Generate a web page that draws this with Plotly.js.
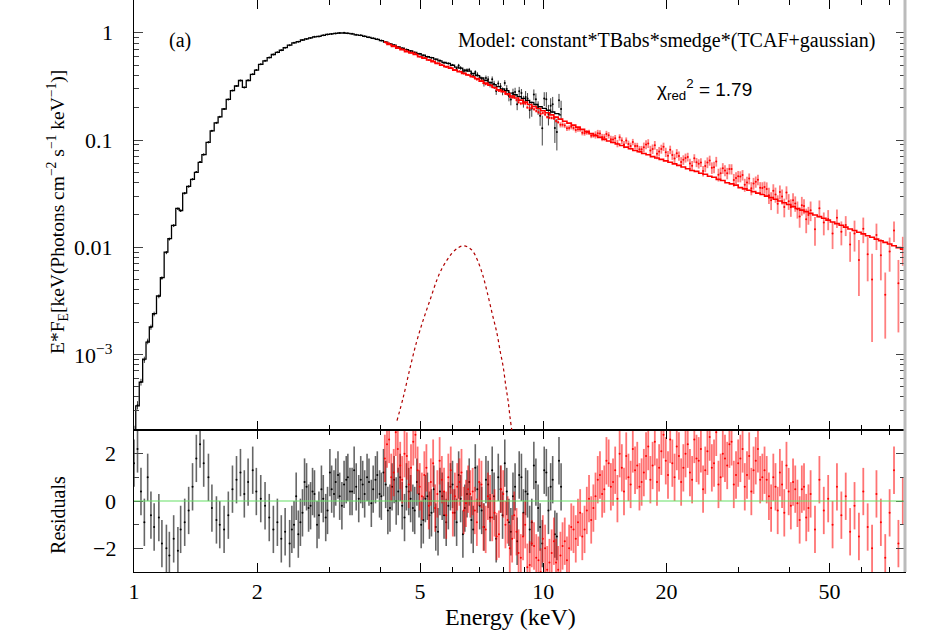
<!DOCTYPE html>
<html>
<head>
<meta charset="utf-8">
<script src="https://cdn.plot.ly/plotly-3.0.1.min.js"></script>
<style>html,body{margin:0;padding:0;background:#fff;}#chart{width:934px;height:632px;}</style>
</head>
<body>
<div id="chart"></div>
<script>
// ---------- Black instrument (1-11 keV) ----------
const blackE = [1.00,1.02,1.04,1.06,1.08,1.10,1.12,1.15,1.17,1.20,
1.22,1.25,1.28,1.30,1.33,1.36,1.39,1.42,1.45,1.48,
1.52,1.55,1.59,1.62,1.66,1.70,1.74,1.78,1.82,1.86,
1.90,1.95,1.99,2.04,2.09,2.14,2.19,2.24,2.29,2.34,
2.40,2.46,2.52,2.58,2.64,2.70,2.76,2.83,2.90,2.97,
3.04,3.11,3.18,3.26,3.33,3.41,3.49,3.58,3.66,3.75,
3.84,3.93,4.02,4.12,4.22,4.32,4.42,4.52,4.63,4.74,
4.85,4.97,5.09,5.21,5.33,5.46,5.59,5.72,5.86,6.00,
6.14,6.28,6.43,6.59,6.74,6.90,7.07,7.24,7.41,7.58,
7.76,7.95,8.14,8.33,8.53,8.73,8.94,9.15,9.37,9.59,
9.82,10.05,10.29,10.54,10.79,11.05];
const blackModel = [1.9e-4,3.3e-4,5.5e-4,9.0e-4,1.3e-3,1.8e-3,2.4e-3,3.5e-3,5.2e-3,9.0e-3,
0.012,0.016,0.023,0.022,0.032,0.037,0.043,0.050,0.062,0.073,
0.095,0.122,0.145,0.165,0.195,0.24,0.29,0.32,0.36,0.31,
0.36,0.41,0.45,0.51,0.55,0.59,0.63,0.66,0.69,0.73,
0.77,0.81,0.83,0.86,0.88,0.90,0.92,0.93,0.95,0.97,
0.98,0.99,1.00,1.00,0.99,0.98,0.96,0.95,0.93,0.91,
0.89,0.87,0.85,0.82,0.79,0.77,0.74,0.72,0.70,0.68,
0.66,0.64,0.62,0.60,0.59,0.57,0.55,0.53,0.52,0.50,
0.48,0.47,0.45,0.44,0.42,0.40,0.38,0.36,0.345,0.33,
0.315,0.30,0.29,0.275,0.265,0.255,0.245,0.235,0.225,0.215,
0.205,0.198,0.19,0.183,0.177,0.172];
const blackFlux = [1.95e-4,3.35e-4,5.5e-4,8.9e-4,1.32e-3,1.79e-3,2.38e-3,3.48e-3,5.15e-3,8.9e-3,
0.0119,0.0159,0.0229,0.0219,0.0319,0.0369,0.0431,0.0503,0.0624,0.0733,
0.0953,0.1219,0.1448,0.1648,0.1947,0.2398,0.2906,0.3205,0.3610,0.3103,
0.3612,0.4115,0.4508,0.5101,0.5498,0.5894,0.6288,0.6594,0.6888,0.7289,
0.7686,0.8093,0.8288,0.8596,0.8806,0.8998,0.9203,0.9294,0.9502,0.9696,
0.9806,0.9916,1.0007,1.0030,0.9940,0.9839,0.9629,0.9539,0.9328,0.9137,
0.8922,0.8748,0.8504,0.8223,0.7886,0.7732,0.7413,0.7186,0.7021,0.6803,
0.6587,0.6406,0.6170,0.6012,0.5883,0.5663,0.5522,0.5283,0.5189,0.5035,
0.463,0.472,0.445,0.454,0.400,0.410,0.372,0.379,0.331,0.335,
0.337,0.286,0.300,0.239,0.281,0.286,0.230,0.244,0.197,0.241,
0.169,0.244,0.175,0.216,0.119,0.195];
const blackFluxErr = [2e-5,3e-5,4e-5,6e-5,8e-5,1e-4,1.2e-4,1.5e-4,2e-4,3e-4,
4e-4,5e-4,6e-4,6e-4,8e-4,9e-4,1e-3,1.1e-3,1.3e-3,1.5e-3,
1.8e-3,2e-3,2.2e-3,2.4e-3,2.6e-3,2.9e-3,3.2e-3,3.4e-3,3.6e-3,3.3e-3,
3.5e-3,3.7e-3,3.9e-3,4e-3,4.1e-3,4.2e-3,4.3e-3,4.4e-3,4.5e-3,4.6e-3,
4.7e-3,4.8e-3,4.9e-3,5e-3,5e-3,5.1e-3,5.1e-3,5.2e-3,5.2e-3,5.3e-3,
5.3e-3,5.4e-3,5.4e-3,5.5e-3,5.5e-3,5.6e-3,5.6e-3,5.7e-3,5.8e-3,5.9e-3,
6e-3,6.1e-3,6.2e-3,6.3e-3,6.4e-3,6.5e-3,6.7e-3,6.9e-3,7.1e-3,7.3e-3,
7.5e-3,7.8e-3,8.1e-3,8.4e-3,8.8e-3,9.2e-3,9.6e-3,0.010,0.0105,0.011,
0.019,0.019,0.018,0.018,0.017,0.020,0.019,0.022,0.021,0.023,
0.022,0.024,0.026,0.028,0.027,0.028,0.029,0.031,0.032,0.032,
0.033,0.036,0.038,0.037,0.039,0.038];
// extra black spectral bins in the noisy 6-11 keV end
const blackE3 = [6.21,6.36,6.51,6.67,6.82,6.99,7.16,7.33,7.50,7.67,7.86,8.05,8.24,8.43,8.63,8.84,9.05,9.26,9.48,9.71,9.94,10.17,10.42,10.67,10.92];
const blackFlux3 = [0.496,0.434,0.450,0.416,0.433,0.387,0.342,0.370,0.369,0.287,0.319,0.342,0.258,0.275,0.216,0.275,0.253,0.191,0.266,0.201,0.129,0.241,0.209,0.130,0.235];
const blackFluxErr3 = [0.019,0.018,0.018,0.017,0.016,0.016,0.026,0.025,0.024,0.023,0.022,0.021,0.028,0.027,0.026,0.025,0.034,0.032,0.031,0.029,0.040,0.039,0.037,0.036,0.035];
const blackResid = [1.6,2.2,0.4,-0.9,1.0,-0.6,-1.1,-0.7,-1.8,-2.0,
-2.3,-1.6,-2.1,-1.2,-0.9,-0.4,0.6,1.8,2.4,1.6,
1.0,-0.3,-0.8,-1.0,-1.2,-0.6,0.5,0.9,1.2,0.3,
0.8,1.3,0.4,0.1,-0.2,-0.7,-1.2,-0.9,-1.6,-1.3,
-1.8,-1.0,-1.4,-0.5,0.6,-0.2,0.3,-0.6,0.1,-0.4,
0.5,0.8,0.2,0.7,1.0,0.4,0.6,0.9,0.3,0.8,
0.5,1.1,0.2,0.7,-0.3,0.9,0.4,-0.2,0.6,0.1,
-0.4,0.3,-0.8,0.2,-0.5,-1.1,0.4,-0.6,-0.2,0.7,
-0.9,0.1,-0.3,0.8,-1.2,0.5,-0.4,0.9,-0.7,0.2,
1.0,-0.6,0.4,-1.3,0.6,1.1,-0.5,0.3,-0.9,0.8,
-1.1,1.3,-0.4,0.9,-1.5,0.6];
// additional black residual bins (2.4-11 keV)
const blackE2 = [2.43,2.49,2.55,2.61,2.67,2.73,2.80,2.87,2.94,3.01,
3.08,3.15,3.22,3.30,3.37,3.45,3.54,3.62,3.71,3.80,
3.89,3.98,4.07,4.17,4.27,4.37,4.47,4.58,4.69,4.80,
4.91,5.03,5.15,5.27,5.40,5.53,5.66,5.79,5.93,6.07,
6.21,6.36,6.51,6.67,6.82,6.99,7.16,7.33,7.50,7.67,
7.86,8.05,8.24,8.43,8.63,8.84,9.05,9.26,9.48,9.71,
9.94,10.17,10.42,10.67,10.92];
const blackResid2 = [-1.2,0.2,-0.9,0.8,-0.3,0.4,-1.0,0.5,-0.7,1.2,
0.3,1.1,-0.2,0.9,0.4,1.3,0.1,0.7,1.0,-0.1,
0.9,0.3,1.2,-0.4,0.6,0.0,1.0,-0.7,0.4,-0.3,
0.8,-1.0,0.1,-0.6,0.5,-1.3,0.2,-0.9,0.6,-0.5,
1.1,-1.4,0.3,-0.8,1.4,-0.2,-1.1,0.7,1.3,-1.6,
0.5,1.6,-0.9,0.2,-1.7,1.0,0.4,-1.2,1.5,-0.3,
-1.8,1.2,0.6,-1.4,1.7];

// ---------- Red instrument (4-76 keV) ----------
const redE = [4.10,4.20,4.31,4.41,4.52,4.64,4.75,4.87,4.99,5.12,
5.25,5.38,5.51,5.65,5.79,5.94,6.08,6.24,6.39,6.55,
6.72,6.88,7.06,7.23,7.41,7.60,7.79,7.98,8.18,8.39,
8.60,8.81,9.03,9.26,9.49,9.73,9.97,10.22,10.48,10.74,
11.01,11.28,11.56,11.85,12.15,12.45,12.77,13.09,13.41,13.75,
14.09,14.44,14.80,15.17,15.55,15.94,16.34,16.75,17.17,17.60,
18.04,18.49,18.95,19.42,19.91,20.41,20.92,21.44,21.98,22.53,
23.09,23.67,24.26,24.86,25.49,26.12,26.78,27.44,28.13,28.83,
29.56,30.29,31.05,31.83,32.62,33.44,34.28,35.13,36.01,36.91,
37.83,38.78,39.75,40.74,41.76,42.80,43.87,44.97,46.09,47.25,
48.43,49.64,50.88,52.15,53.46,54.79,56.16,57.57,59.01,60.48,
61.99,63.54,65.13,66.76,68.43,70.14,71.89,73.69,75.53];
const redModel = [0.81,0.78,0.75,0.72,0.70,0.67,0.65,0.63,0.60,0.58,
0.56,0.54,0.52,0.50,0.485,0.47,0.45,0.435,0.42,0.405,
0.39,0.375,0.355,0.34,0.325,0.31,0.295,0.283,0.27,0.258,
0.247,0.236,0.226,0.215,0.206,0.197,0.188,0.180,0.172,0.164,
0.157,0.150,0.144,0.138,0.132,0.126,0.120,0.115,0.110,0.106,
0.102,0.098,0.095,0.092,0.089,0.086,0.083,0.080,0.078,0.075,
0.073,0.070,0.068,0.066,0.064,0.062,0.060,0.058,0.056,0.054,
0.052,0.051,0.049,0.048,0.046,0.045,0.043,0.042,0.040,0.039,
0.038,0.036,0.035,0.034,0.033,0.032,0.031,0.030,0.029,0.028,
0.027,0.026,0.025,0.024,0.023,0.0222,0.0215,0.0207,0.0200,0.0193,
0.0186,0.0179,0.0172,0.0166,0.0160,0.0154,0.0148,0.0143,0.0138,0.0133,
0.0128,0.0124,0.0119,0.0115,0.0111,0.0107,0.0103,0.0099,0.0096];
const redFlux = [0.825,0.80,0.759,0.736,0.706,0.683,0.659,0.648,0.604,0.588,
0.559,0.550,0.522,0.505,0.481,0.477,0.451,0.439,0.418,0.407,
0.393,0.368,0.360,0.332,0.326,0.307,0.287,0.285,0.266,0.250,
0.237,0.219,0.219,0.198,0.194,0.182,0.179,0.164,0.161,0.151,
0.139,0.137,0.130,0.130,0.126,0.117,0.118,0.110,0.112,0.115,
0.106,0.111,0.101,0.093,0.099,0.099,0.088,0.088,0.082,0.0858,
0.0931,0.0826,0.0745,0.0826,0.0771,0.0813,0.0672,0.0712,0.0654,0.0696,
0.0576,0.0620,0.0619,0.0574,0.0646,0.0558,0.0475,0.0546,0.0490,0.0536,
0.0443,0.0457,0.0382,0.0437,0.0394,0.0426,0.0357,0.0349,0.0274,0.0310,
0.0328,0.0237,0.0268,0.0275,0.0226,0.0246,0.0182,0.0221,0.0147,0.0231,
0.0170,0.0183,0.0134,0.0188,0.0139,0.0161,0.0106,0.0134,0.0076,0.0149,
0.0086,0.0050,0.0130,0.0084,0.0036,0.0091,0.0143,0.0046,0.0096];
const redFluxErr = [0.0081,0.0078,0.0075,0.0072,0.007,0.0067,0.0065,0.0063,0.006,0.007,
0.0067,0.0065,0.0062,0.006,0.0058,0.0056,0.0054,0.0052,0.005,0.0049,
0.0078,0.0075,0.0071,0.0068,0.0065,0.0062,0.0059,0.0057,0.0054,0.0052,
0.0074,0.0071,0.0068,0.0065,0.0062,0.0059,0.0056,0.0054,0.0052,0.0049,
0.0079,0.0075,0.0072,0.0069,0.0066,0.0063,0.006,0.0058,0.0088,0.0085,
0.0082,0.0078,0.0076,0.0074,0.0071,0.0069,0.0066,0.0064,0.0062,0.009,
0.0088,0.0084,0.0082,0.0079,0.0077,0.0074,0.0072,0.007,0.0067,0.0065,
0.0062,0.0061,0.0059,0.0072,0.0069,0.0068,0.0065,0.0063,0.006,0.0059,
0.0057,0.0054,0.0053,0.0051,0.005,0.0048,0.0047,0.0054,0.0052,0.005,
0.0049,0.0047,0.0045,0.0043,0.0041,0.0049,0.0047,0.0046,0.0044,0.0042,
0.0041,0.0039,0.0038,0.0037,0.0035,0.0034,0.0033,0.0043,0.0041,0.004,
0.0038,0.0037,0.0036,0.0035,0.0022,0.0032,0.0031,0.003,0.0029];
const redResid = [1.8,2.6,1.2,2.2,0.9,1.9,1.4,2.8,0.6,1.1,
-0.2,1.6,0.3,0.9,-0.6,1.3,0.2,0.8,-0.4,0.5,
0.4,-0.9,0.7,-1.2,0.1,-0.5,-1.4,0.3,-0.8,-1.6,
-1.3,-2.4,-1.0,-2.7,-1.9,-2.5,-1.6,-2.9,-2.2,-2.6,
-2.3,-1.7,-2.0,-1.2,-0.9,-1.5,-0.4,-0.8,0.2,1.1,
0.5,1.6,0.8,0.1,1.4,1.9,0.7,1.3,0.6,1.2,
2.3,1.5,0.8,2.1,1.7,2.6,1.0,1.9,1.4,2.4,
0.9,1.8,2.2,1.3,2.7,1.6,0.7,2.0,1.5,2.5,
1.1,1.8,0.6,1.9,1.3,2.2,1.0,0.9,-0.3,0.6,
1.2,-0.5,0.4,0.8,-0.1,0.5,-0.7,0.3,-1.2,0.9,
-0.4,0.1,-1.0,0.6,-0.6,0.2,-1.3,-0.2,-1.5,0.4,
-1.1,-2.0,0.3,-0.9,-2.4,-0.5,1.3,-1.8,0.0];
// additional red bins (4-45 keV)
const redE2 = [4.15,4.25,4.36,4.47,4.58,4.69,4.81,4.93,
5.05,5.18,5.31,5.44,5.58,5.72,5.86,6.01,6.16,6.31,6.47,6.63,
6.80,6.97,7.14,7.32,7.50,7.69,7.88,8.08,8.28,8.49,
8.70,8.92,9.14,9.37,9.61,9.85,10.10,10.35,10.61,10.87,
11.14,11.42,11.70,12.00,12.30,12.61,12.93,13.25,
13.58,13.92,14.26,14.62,14.98,15.36,15.74,16.14,16.54,16.96,17.38,
17.82,18.26,18.72,19.18,19.66,20.16,20.66,21.18,21.71,22.25,22.81,23.38,23.96,24.56,
25.17,25.80,26.45,27.11,27.78,28.48,29.19,29.92,30.67,31.44,32.22,33.03,33.86,34.70,
35.57,36.46,37.37,38.30,39.26,40.24,41.25,42.28,43.33,44.42];
const redFlux2 = [0.814,0.773,0.756,0.721,0.699,0.665,0.656,0.623,
0.591,0.580,0.555,0.528,0.520,0.492,0.484,0.457,0.446,0.434,0.412,0.399,
0.380,0.371,0.340,0.334,0.314,0.294,0.292,0.271,0.253,0.250,
0.226,0.221,0.202,0.200,0.187,0.176,0.173,0.162,0.159,0.147,
0.139,0.129,0.133,0.124,0.126,0.116,0.119,0.111,
0.116,0.106,0.114,0.102,0.104,0.106,0.091,0.092,0.096,0.088,0.082,
0.0909,0.0798,0.0897,0.0783,0.0868,0.0713,0.0727,0.0753,0.0625,0.0682,0.0606,0.0676,0.0602,0.0514,
0.0618,0.0551,0.0631,0.0489,0.0521,0.0537,0.0425,0.0459,0.0472,0.0402,0.0355,0.0408,0.0358,0.0364,
0.0306,0.0336,0.0255,0.0298,0.0324,0.0236,0.0256,0.0193,0.0242,0.0200];
const redFluxErr2 = [0.008,0.0077,0.0074,0.0071,0.0069,0.0066,0.0064,0.0062,
0.0071,0.0068,0.0066,0.0064,0.0061,0.0059,0.0057,0.0055,0.0053,0.0051,0.005,0.0048,
0.0077,0.0073,0.007,0.0067,0.0064,0.0061,0.0058,0.0055,0.0053,0.0051,
0.0073,0.0069,0.0066,0.0063,0.0061,0.0058,0.0055,0.0053,0.005,0.0048,
0.0077,0.0074,0.0071,0.0068,0.0065,0.0062,0.0059,0.0057,
0.0086,0.0083,0.008,0.0078,0.0075,0.0073,0.007,0.0068,0.0066,0.0063,0.0062,
0.0089,0.0086,0.0083,0.008,0.0078,0.0076,0.0073,0.0071,0.0068,0.0066,0.0064,0.0062,0.006,0.0058,
0.0071,0.0068,0.0066,0.0064,0.0062,0.0059,0.0058,0.0056,0.0053,0.0052,0.005,0.0049,0.0047,0.0046,
0.0053,0.0051,0.005,0.0048,0.0046,0.0044,0.0042,0.0041,0.0039,0.0038];
const redResid2 = [2.4,1.0,2.9,1.5,2.0,0.7,2.5,1.3,
0.2,1.4,0.8,-0.3,1.7,0.4,1.0,-0.5,0.6,1.2,-0.1,0.3,
-0.4,0.8,-1.1,0.2,-0.7,-1.5,0.5,-1.0,-2.0,-0.6,
-2.2,-1.5,-2.8,-1.8,-2.4,-3.0,-2.0,-2.6,-1.7,-2.9,
-1.9,-2.5,-1.1,-1.6,-0.5,-1.2,0.1,-0.3,
0.9,0.3,1.7,0.6,1.3,2.0,0.4,1.0,2.2,1.5,0.8,
1.9,0.9,2.5,1.4,2.8,1.1,1.6,2.3,0.8,2.0,1.2,2.6,1.7,0.5,
2.1,1.4,2.9,1.0,1.8,2.4,0.7,1.6,2.2,1.1,0.4,1.7,0.9,1.3,
0.2,1.0,-0.4,0.7,1.5,-0.2,0.5,-0.8,0.6,-0.3];

// ---------- Gaussian line component ----------
const gaussE = [4.39,4.55,4.73,4.90,5.09,5.30,5.50,5.65,5.82,6.00,6.20,6.37,6.55,6.72,6.90,7.10,7.28,7.50,7.70,7.85,7.98,8.10,8.20,8.30,8.40];
const gaussFlux = [2.4e-4,4.0e-4,7.6e-4,1.3e-3,2.1e-3,3.3e-3,5.0e-3,6.3e-3,7.6e-3,8.9e-3,9.9e-3,1.03e-2,1.0e-2,9.2e-3,7.6e-3,5.6e-3,3.9e-3,2.4e-3,1.58e-3,1.05e-3,7.6e-4,5.0e-4,3.7e-4,2.5e-4,1.8e-4];

// ---------- Axis ticks ----------
const xTickVals = [1,2,5,10,20,50];
const xTickText = ['1','2','5','10','20','50'];
const xMinorVals = [3,4,6,7,8,9,30,40,60,70];
const yTopTickVals = [0.001,0.01,0.1,1];
const yTopTickText = ['10<sup>−3</sup>','0.01','0.1','1'];
const yTopMinorVals = [2e-4,3e-4,4e-4,5e-4,6e-4,7e-4,8e-4,9e-4,2e-3,3e-3,4e-3,5e-3,6e-3,7e-3,8e-3,9e-3,0.02,0.03,0.04,0.05,0.06,0.07,0.08,0.09,0.2,0.3,0.4,0.5,0.6,0.7,0.8,0.9,2];
const yResTickVals = [-2,0,2];
const yResTickText = ['−2','0','2'];
const yResMinorVals = [-3,-1,1,3];

const SERIF = 'Liberation Serif, Times New Roman, serif';
const SANS = 'Liberation Sans, Arial, sans-serif';

const blackBar = {type:'constant', value:1, visible:true, color:'rgba(0,0,0,0.6)', thickness:1.6, width:0};
const redBar = {type:'constant', value:1, visible:true, color:'rgba(255,0,0,0.55)', thickness:1.8, width:0};
const redTopBar = (arr) => ({type:'data', array:arr, visible:true, color:'rgba(255,0,0,0.5)', thickness:1.8, width:0});
const blackTopBar = (arr) => ({type:'data', array:arr, visible:true, color:'rgba(0,0,0,0.75)', thickness:1, width:0});

const traces = [
  {x: blackE, y: blackModel, xaxis:'x2', yaxis:'y2', mode:'lines', line:{shape:'hvh', color:'#000', width:1.3}},
  {x: blackE, y: blackFlux, xaxis:'x2', yaxis:'y2', mode:'markers', marker:{size:2, color:'#000'}, error_y: blackTopBar(blackFluxErr)},
  {x: blackE3, y: blackFlux3, xaxis:'x2', yaxis:'y2', mode:'markers', marker:{size:2, color:'#000'}, error_y: blackTopBar(blackFluxErr3)},
  {x: redE, y: redFlux, xaxis:'x2', yaxis:'y2', mode:'markers', marker:{size:2, color:'#ff0000'}, error_y: redTopBar(redFluxErr)},
  {x: redE2, y: redFlux2, xaxis:'x2', yaxis:'y2', mode:'markers', marker:{size:2, color:'#ff0000'}, error_y: redTopBar(redFluxErr2)},
  {x: redE, y: redModel, xaxis:'x2', yaxis:'y2', mode:'lines', line:{shape:'hvh', color:'#ff0000', width:1.6}},
  {x: gaussE, y: gaussFlux, xaxis:'x2', yaxis:'y2', mode:'lines', line:{shape:'spline', color:'#b00000', width:1.2, dash:'dot'}},
  {x: blackE, y: blackResid, xaxis:'x', yaxis:'y', mode:'markers', marker:{size:2, color:'#000'}, error_y: blackBar},
  {x: blackE2, y: blackResid2, xaxis:'x', yaxis:'y', mode:'markers', marker:{size:2, color:'#000'}, error_y: blackBar},
  {x: redE, y: redResid, xaxis:'x', yaxis:'y', mode:'markers', marker:{size:2, color:'#ff0000'}, error_y: redBar},
  {x: redE2, y: redResid2, xaxis:'x', yaxis:'y', mode:'markers', marker:{size:2, color:'#ff0000'}, error_y: redBar}
];

const split = (572-430)/572;
const tickFont = {family:SERIF, size:22, color:'#000'};
const commonX = {
  type:'log', range:[0, 1.8835], showline:true, linecolor:'#000', linewidth:1, mirror:'allticks',
  ticks:'inside', ticklen:9, tickcolor:'#000', tickwidth:1,
  tickmode:'array', tickvals:xTickVals, ticktext:xTickText,
  minor:{ticks:'inside', ticklen:5, tickcolor:'#000', tickmode:'array', tickvals:xMinorVals},
  showgrid:false, zeroline:false, tickfont:tickFont
};

// y tick labels placed as annotations so they sit at the reference's distance from the axis
const tickAnnots = [];
yTopTickVals.forEach((v, i) => tickAnnots.push({text: yTopTickText[i], xref:'paper', yref:'y2', x:-0.025, y:Math.log10(v),
  showarrow:false, xanchor:'right', yanchor:'middle', font:tickFont}));
yResTickVals.forEach((v, i) => tickAnnots.push({text: yResTickText[i], xref:'paper', yref:'y', x:-0.021, y:v,
  showarrow:false, xanchor:'right', yanchor:'middle', font:tickFont}));

const layout = {
  width:934, height:632, showlegend:false,
  paper_bgcolor:'#fff', plot_bgcolor:'#fff',
  margin:{l:134, r:29, t:0, b:60},
  font:{family:SERIF, color:'#000'},
  xaxis: Object.assign({}, commonX, {anchor:'y', domain:[0,1]}),
  xaxis2: Object.assign({}, commonX, {anchor:'y2', domain:[0,1], matches:'x', showticklabels:false}),
  yaxis: {domain:[0, split], anchor:'x', range:[-3,3], showline:true, linecolor:'#000', mirror:'allticks',
    ticks:'inside', ticklen:9, tickmode:'array', tickvals:yResTickVals, showticklabels:false,
    minor:{ticks:'inside', ticklen:5, tickmode:'array', tickvals:yResMinorVals},
    showgrid:false, zeroline:false},
  yaxis2: {domain:[split, 1], anchor:'x2', type:'log', range:[-3.707, 0.308], showline:true, linecolor:'#000', mirror:'allticks',
    ticks:'inside', ticklen:9, tickmode:'array', tickvals:yTopTickVals, showticklabels:false,
    minor:{ticks:'inside', ticklen:5, tickmode:'array', tickvals:yTopMinorVals},
    showgrid:false, zeroline:false},
  shapes:[
    {type:'line', xref:'paper', x0:0, x1:1, yref:'y', y0:0, y1:0, line:{color:'#66e066', width:1.2}, layer:'above'},
    {type:'line', xref:'paper', x0:1, x1:1, yref:'paper', y0:0, y1:1, line:{color:'#bbbbbb', width:3}, layer:'above'}
  ],
  annotations: tickAnnots.concat([
    {text:'(a)', xref:'paper', yref:'paper', x:0.0597, y:0.930, showarrow:false, xanchor:'center', yanchor:'middle', font:{family:SERIF, size:20, color:'#000'}},
    {text:'Model: constant*TBabs*smedge*(TCAF+gaussian)', xref:'paper', yref:'paper', x:0.9637, y:0.930, showarrow:false, xanchor:'right', yanchor:'middle', font:{family:SERIF, size:20, color:'#000'}},
    {text:'χ<sub>red</sub><sup>2</sup> = 1.79', xref:'paper', yref:'paper', x:0.6757, y:0.8444, showarrow:false, xanchor:'left', yanchor:'middle', font:{family:SANS, size:19, color:'#000'}},
    {text:'E*F<sub>E</sub>[keV(Photons cm<sup>−2</sup> s<sup>−1</sup> keV<sup>−1</sup>)]', xref:'paper', yref:'paper', x:-0.0986, y:0.6294, textangle:-90, showarrow:false, xanchor:'center', yanchor:'middle', font:{family:SERIF, size:19.5, color:'#000'}},
    {text:'Residuals', xref:'paper', yref:'paper', x:-0.0986, y:0.0997, textangle:-90, showarrow:false, xanchor:'center', yanchor:'middle', font:{family:SERIF, size:20, color:'#000'}},
    {text:'Energy (keV)', xref:'paper', yref:'paper', x:0.4877, y:-0.0787, showarrow:false, xanchor:'center', yanchor:'middle', font:{family:SERIF, size:24, color:'#000'}}
  ])
};

Plotly.newPlot('chart', traces, layout, {staticPlot:true, displayModeBar:false});
</script>
</body>
</html>
